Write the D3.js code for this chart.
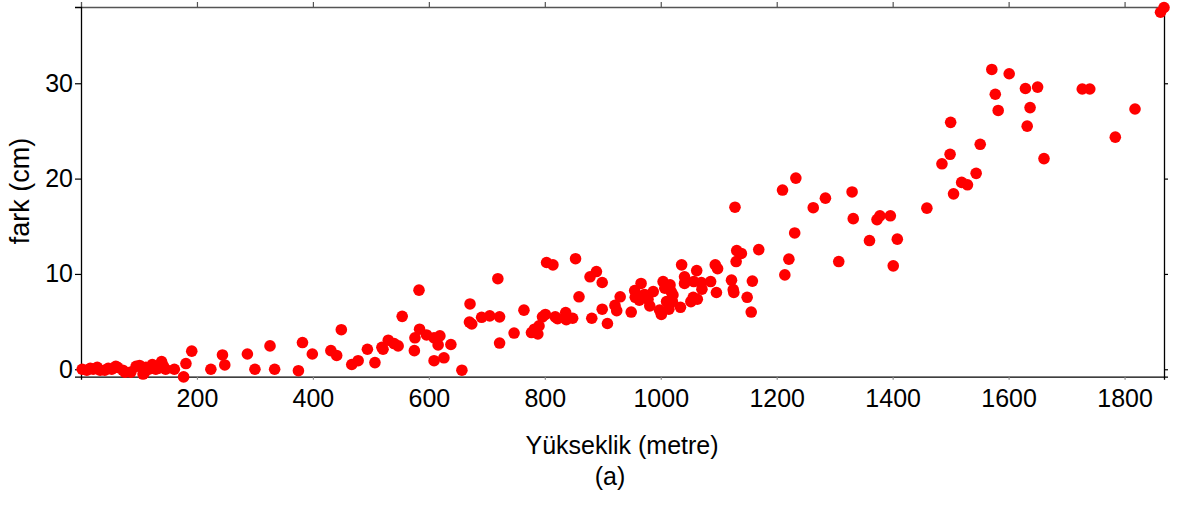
<!DOCTYPE html>
<html><head><meta charset="utf-8">
<script src="https://cdn.jsdelivr.net/npm/d3@7"></script>
<style>
html,body{margin:0;padding:0;background:#fff;}
svg{display:block;font-family:"Liberation Sans",Arial,sans-serif;}
</style></head>
<body>
<svg id="c" width="1184" height="505"></svg>
<script>
const elevation = [2,10,16,21,28,33,41,47,53,60,63,72,76,86,95,101,107,109,112,117,123,129,133,139,142,146,161,
177,181,191,224,244,248,287,300,326,334,375,382,399,431,441,449,467,478,494,507,519,521,530,540,547,554,576,575,583,584,596,609,619,616,609,626,638,657,671,670,674,691,705,719,722,722,747,764,777,782,790,788,796,801,803,814,818,822,836,837,848,853,859,878,889,899,881,899,908,921,924,930,949,955,956,966,963,972,978,981,987,998,1001,1004,1007,1016,1018,1021,1010,1014,1020,1034,1036,1041,1041,1052,1056,1063,1062,1057,1070,1071,1086,1094,1098,1096,1122,1125,1126,1130,1128,1131,1139,1149,1156,1158,1169,1210,1214,1221,1231,1233,1263,1284,1307,1330,1332,1360,1373,1378,1396,1401,1408,1459,1485,1499,1500,1505,1519,1529,1544,1551,1571,1577,1582,1601,1629,1632,1637,1650,1661,1727,1740,1784,1818,1862,1868];
const diffCm = [0.0,-0.1,0.1,0.0,0.2,-0.1,-0.1,0.1,0.0,0.3,0.2,-0.1,-0.3,-0.3,0.3,0.4,-0.5,-0.4,0.2,0.0,0.5,0.0,0.1,0.8,0.35,0.0,0.0,
-0.8,0.6,1.9,0.0,1.5,0.45,1.6,0.0,2.45,0.0,-0.15,2.8,1.6,1.95,1.45,4.15,0.5,0.9,2.1,0.7,2.3,2.1,3.05,2.7,2.45,5.55,3.3,1.95,8.3,4.2,3.6,3.3,3.5,2.55,0.9,1.2,2.6,-0.1,6.85,4.95,4.75,5.45,5.6,9.5,5.5,2.75,3.8,6.2,3.85,4.2,4.55,3.7,5.5,5.75,11.2,10.95,5.5,5.3,5.95,5.2,5.35,11.6,7.6,9.7,10.25,9.1,5.35,6.3,4.8,6.7,6.15,7.6,6.0,8.25,7.55,9.0,7.25,7.85,7.35,6.65,8.15,6.2,5.75,9.2,8.5,8.85,8.15,7.8,7.1,6.3,7.1,6.5,10.95,9.7,9.0,7.1,7.55,7.35,10.35,9.2,9.1,8.4,9.2,10.95,10.55,8.05,9.35,8.35,8.05,11.3,17.0,12.45,12.15,7.55,6.0,9.25,12.55,18.8,9.9,11.55,14.3,20.05,16.95,17.95,11.3,18.6,15.8,13.5,15.7,16.1,16.1,10.85,13.65,16.9,21.55,22.55,25.9,18.4,19.6,19.35,20.55,23.6,31.45,28.85,27.15,31.0,29.45,25.5,27.45,29.6,22.1,29.4,29.4,24.35,27.3,37.45,37.95];
const xTicks = [200,400,600,800,1000,1200,1400,1600,1800];
const yTicks = [0,10,20,30];
const xTitle = "Yükseklik (metre)";
const yTitle = "fark (cm)";
const subTitle = "(a)";

(function(){
const svg = d3.select("#c");
const L = 81, R = 1164, T = 7, B = 376.7;
const x = d3.scaleLinear().domain([0, 1868]).range([L, R]);
const y = d3.scaleLinear().domain([-0.78, 38.0]).range([B, T]);
const fmt = d3.format("d");

const gTop = svg.append("g").attr("transform", `translate(0,${T})`)
  .call(d3.axisTop(x).tickValues(xTicks).tickSize(5).tickFormat(""));
gTop.select(".domain").attr("stroke", "#555").attr("stroke-width", 1.3);
gTop.selectAll(".tick line").attr("stroke", "#555").attr("stroke-width", 1.2);

const gRight = svg.append("g").attr("transform", `translate(${R},0)`)
  .call(d3.axisRight(y).tickValues(yTicks).tickSize(4).tickFormat(""));
gRight.select(".domain").attr("stroke", "#000").attr("stroke-width", 1.3);
gRight.selectAll(".tick line").attr("stroke", "#000").attr("stroke-width", 1.2);

const gBottom = svg.append("g").attr("transform", `translate(0,${B})`)
  .call(d3.axisBottom(x).tickValues(xTicks).tickFormat(fmt).tickSize(3).tickPadding(10));
gBottom.select(".domain").attr("stroke", "#000").attr("stroke-width", 1.3);
gBottom.selectAll(".tick line").attr("stroke", "#888").attr("stroke-width", 1.2);
gBottom.selectAll(".tick text").attr("font-size", 25).attr("fill", "#000")
  .attr("font-family", "Liberation Sans, Arial, sans-serif");

const gLeft = svg.append("g").attr("transform", `translate(${L},0)`)
  .call(d3.axisLeft(y).tickValues(yTicks).tickFormat(fmt).tickSize(6).tickPadding(2));
gLeft.select(".domain").attr("stroke", "#000").attr("stroke-width", 1.3);
gLeft.selectAll(".tick line").attr("stroke", "#000").attr("stroke-width", 1.2);
gLeft.selectAll(".tick text").attr("font-size", 25).attr("fill", "#000")
  .attr("font-family", "Liberation Sans, Arial, sans-serif");

const pts = elevation.map((e, i) => ({e, d: diffCm[i]}));
svg.append("g").selectAll("circle").data(pts).join("circle")
  .attr("cx", p => x(p.e)).attr("cy", p => y(p.d)).attr("r", 5.8)
  .attr("fill", "#ff0000");

svg.append("text").attr("x", 622).attr("y", 454).attr("text-anchor", "middle")
  .attr("font-size", 25).attr("fill", "#000").text(xTitle);
svg.append("text").attr("x", 610).attr("y", 485).attr("text-anchor", "middle")
  .attr("font-size", 25).attr("fill", "#000").text(subTitle);
svg.append("text").attr("transform", "translate(29,191) rotate(-90)")
  .attr("text-anchor", "middle").attr("font-size", 27).attr("fill", "#000").text(yTitle);
})();
</script>
</body></html>
